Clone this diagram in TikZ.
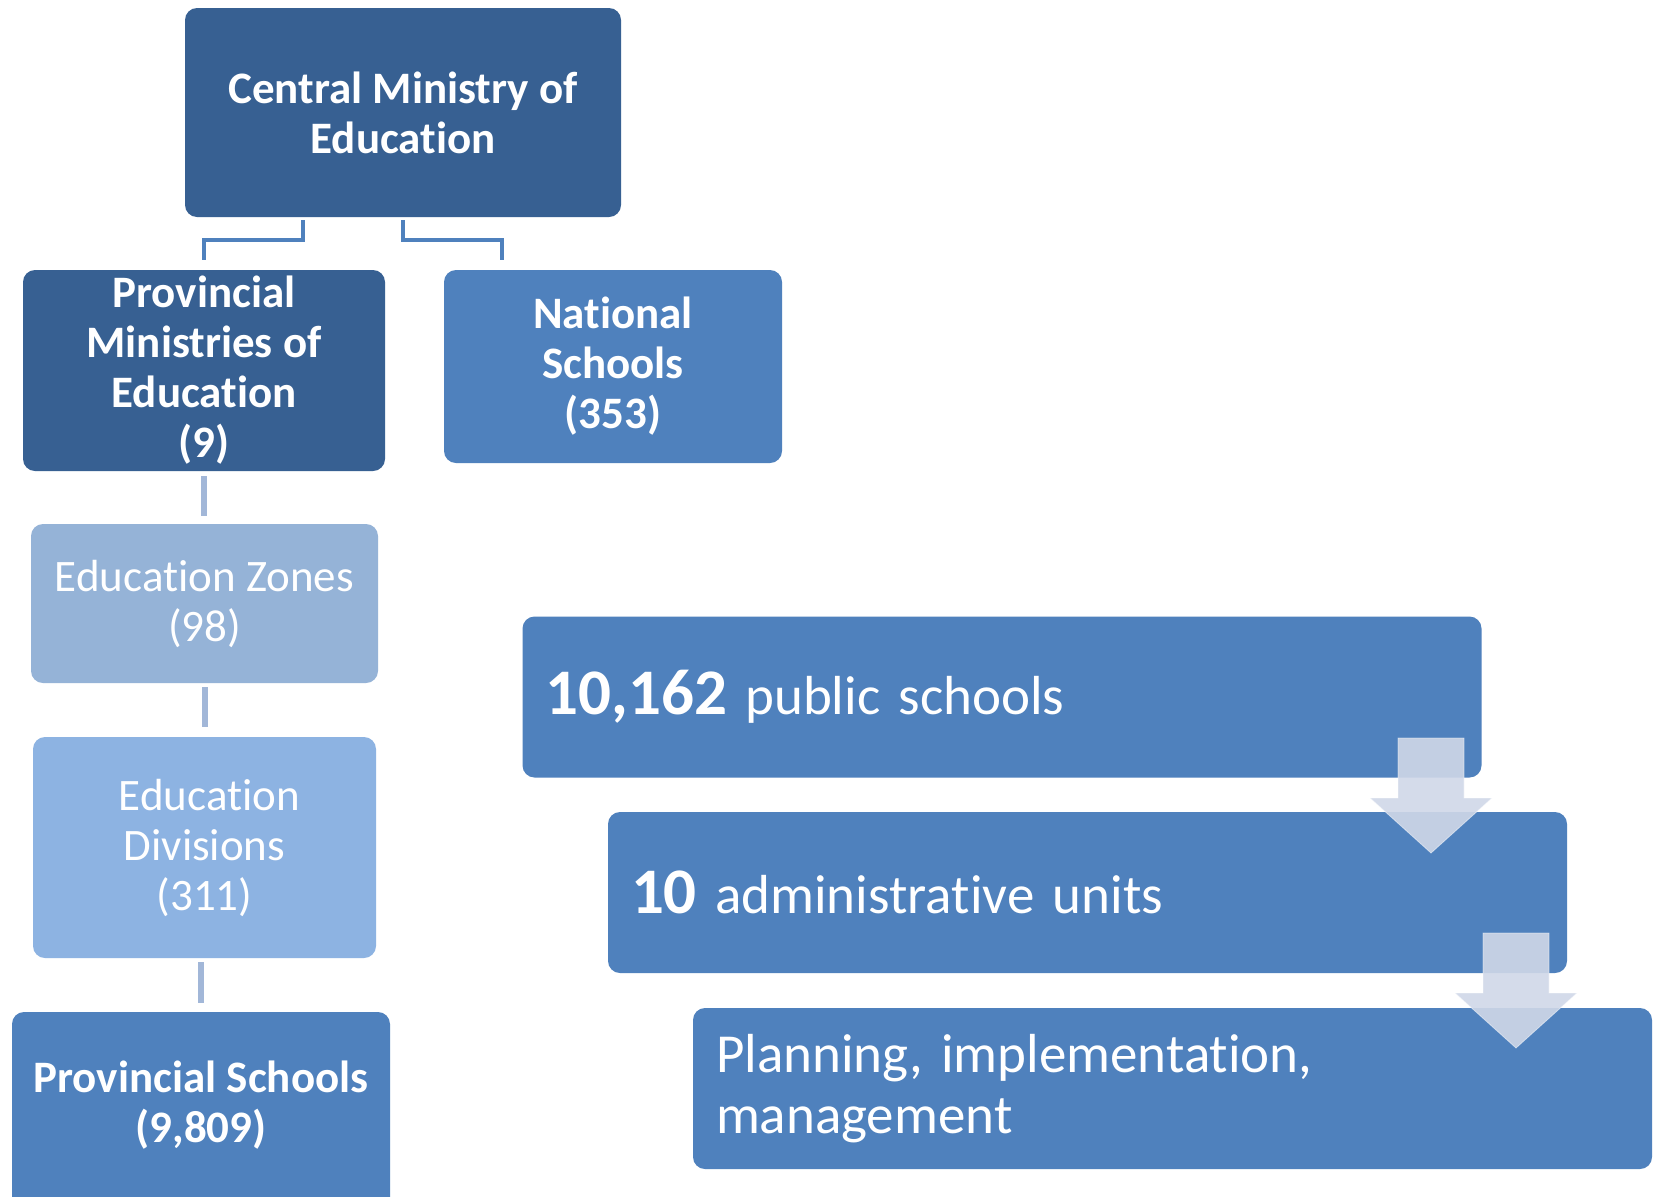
\documentclass[tikz,border=0pt]{standalone}
\usepackage{fontspec}
\setmainfont[Ligatures=NoCommon]{Carlito}
\definecolor{dkblue}{HTML}{376092}
\definecolor{mdblue}{HTML}{4F81BD}
\definecolor{ltzone}{HTML}{95B3D7}
\definecolor{ltdiv}{HTML}{8DB3E2}
\definecolor{arrowfill}{HTML}{D0D8E8}
\definecolor{conlight}{HTML}{A2B7D8}
\tikzset{
  orgbox/.style={rectangle, rounded corners=12pt, inner sep=0pt, text=white, align=center,
    font=\fontsize{45}{50}\selectfont},
  rbox/.style={rectangle, rounded corners=12pt, fill=mdblue, text=white, align=left,
    inner xsep=23pt, inner ysep=0pt, text width=913pt, minimum height=161pt,
    font=\fontsize{55}{61}\selectfont},
  topcon/.style={draw=mdblue, line width=4pt},
  lowcon/.style={draw=conlight, line width=6pt},
  blockarrow/.style={fill=arrowfill, fill opacity=0.9, draw=white, draw opacity=0.5, line width=0.8pt}
}
\begin{document}
\begin{tikzpicture}[x=1pt,y=-1pt]
\useasboundingbox (0,0) rectangle (1658,1197);
\clip (0,0) rectangle (1658,1197);
\fill[white] (0,0) rectangle (1658,1197);

% left hierarchy
\node[orgbox, fill=dkblue, minimum width=436pt, minimum height=209pt, font=\fontsize{45}{50}\selectfont\bfseries]
  (cm) at (403,112.5) {Central Ministry of\\Education};
\node[orgbox, fill=dkblue, minimum width=362pt, minimum height=201pt, font=\fontsize{45}{50}\selectfont\bfseries]
  (pm) at (204,370.5) {Provincial\\Ministries of\\Education\\(9)};
\node[orgbox, fill=mdblue, minimum width=338pt, minimum height=193pt, font=\fontsize{45}{50}\selectfont\bfseries]
  (ns) at (613,366.5) {National\\Schools\\(353)};
\node[orgbox, fill=ltzone, minimum width=347pt, minimum height=159pt]
  (zn) at (204.5,603.5) {Education Zones\\(98)};
\node[orgbox, fill=ltdiv, minimum width=343pt, minimum height=221pt]
  (dv) at (204.5,847.5) {\hspace*{10pt}Education\\Divisions\\(311)};
\node[orgbox, fill=mdblue, minimum width=378pt, minimum height=218pt]
  (ps) at (201,1121) {};
\node[text=white, align=center, inner sep=0pt, font=\fontsize{45}{50}\selectfont\bfseries]
  (pstext) at (201,1105) {Provincial Schools\\(9,809)};

% connectors
\draw[topcon] ([xshift=-100pt,yshift=-3pt]cm.south) -- ++(0,20) -| ([yshift=10pt]pm.north);
\draw[topcon] ([yshift=-3pt]cm.south) -- ++(0,20) -| ([xshift=-111pt,yshift=10pt]ns.north);
\draw[lowcon] ([yshift=-5pt]pm.south) -- ([yshift=8pt]zn.north -| pm.south);
\draw[lowcon] ([yshift=-4pt]zn.south) -- ++(0,40);
\draw[lowcon] ([yshift=9pt]ps.north) -- ++(0,-41);

% right boxes
\node[rbox] (b1) at (1002,697) {{\fontsize{65}{70}\selectfont\bfseries 10,162} public schools};
\node[rbox] (b2) at (1087.5,892.5) {{\fontsize{65}{70}\selectfont\bfseries 10} administrative units};
\node[rbox] (b3) at (1172.5,1088.5) {Planning, implementation,\\management};

% block arrows
\fill[blockarrow] (1398,738) -- (1464,738) -- (1464,798) -- (1492,798) -- (1431,853) -- (1370,798) -- (1398,798) -- cycle;
\fill[blockarrow] (1483,933) -- (1549,933) -- (1549,993) -- (1577,993) -- (1516,1048) -- (1455,993) -- (1483,993) -- cycle;
\end{tikzpicture}
\end{document}
